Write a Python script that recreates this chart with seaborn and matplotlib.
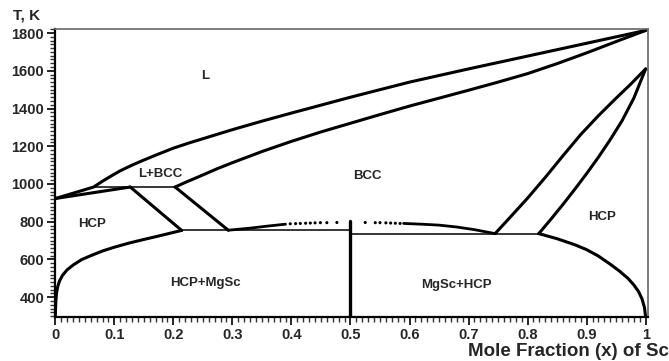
import matplotlib
matplotlib.use("Agg")
import matplotlib.pyplot as plt
import seaborn as sns
import pandas as pd
from matplotlib.ticker import MultipleLocator

# ---------------- data (mole fraction Sc, temperature K) ----------------
liq_x = [0.0, 0.03, 0.065, 0.08, 0.095, 0.11, 0.13, 0.15, 0.175, 0.2, 0.225, 0.25, 0.3,
         0.35, 0.4, 0.45, 0.5, 0.55, 0.6, 0.65, 0.7, 0.75, 0.8, 0.85, 0.9, 0.95, 1.0]
liq_t = [923, 951, 984, 1015, 1043, 1070, 1100, 1127, 1159, 1190, 1216, 1240, 1288,
         1333, 1376, 1418, 1460, 1500, 1540, 1575, 1610, 1644, 1678, 1712, 1746, 1780, 1814]

sol_x = [0.203, 0.22, 0.25, 0.275, 0.3, 0.35, 0.4, 0.45, 0.5, 0.55, 0.6, 0.65, 0.7,
         0.75, 0.8, 0.85, 0.9, 0.95, 1.0]
sol_t = [984, 1008, 1048, 1082, 1113, 1172, 1226, 1276, 1322, 1368, 1413, 1455, 1497,
         1540, 1585, 1638, 1695, 1755, 1814]

hcpsol_x = [0.0, 0.127]
hcpsol_t = [923, 984]

perit_x = [0.065, 0.203]
perit_t = [984, 984]

hcp_bnd_x = [0.127, 0.214]
hcp_bnd_t = [984, 754]
bcc_bnd_x = [0.203, 0.293]
bcc_bnd_t = [984, 755]

eut_l_x = [0.214, 0.5]
eut_l_t = [754, 754]
eut_r_x = [0.5, 0.819]
eut_r_t = [737, 737]

mgsc_x = [0.5, 0.5]
mgsc_t = [295, 805]

solv_l_x = [0.0, 0.0003, 0.001, 0.002, 0.004, 0.007, 0.012, 0.02, 0.03, 0.045, 0.06,
            0.08, 0.1, 0.125, 0.15, 0.18, 0.214]
solv_l_t = [295, 330, 380, 420, 455, 485, 515, 545, 570, 600, 620,
            645, 665, 687, 706, 728, 754]

solv_r_x = [0.819, 0.85, 0.88, 0.9, 0.92, 0.94, 0.955, 0.97, 0.98, 0.988, 0.994, 0.998, 1.0]
solv_r_t = [737, 710, 678, 652, 618, 575, 540, 500, 465, 430, 390, 345, 295]

bccsc_x = [0.745, 0.77, 0.8, 0.83, 0.86, 0.89, 0.92, 0.95, 0.975, 1.0]
bccsc_t = [737, 822, 925, 1035, 1150, 1262, 1362, 1455, 1530, 1610]
hcpsc_x = [0.819, 0.84, 0.86, 0.88, 0.9, 0.92, 0.94, 0.96, 0.98, 1.0]
hcpsc_t = [737, 815, 892, 972, 1055, 1142, 1235, 1335, 1455, 1610]

ord_l_x = [0.293, 0.31, 0.33, 0.36, 0.39]
ord_l_t = [755, 760, 766, 777, 787]
ord_dot_x = [0.398, 0.407, 0.415, 0.424, 0.432, 0.44, 0.449, 0.46, 0.477,
             0.525, 0.542, 0.55, 0.56, 0.568, 0.576, 0.584]
ord_dot_t = [789, 790, 791, 792, 793, 794, 795, 795, 796,
             796, 795, 795, 794, 793, 792, 791]
ord_r_x = [0.59, 0.62, 0.65, 0.68, 0.71, 0.745]
ord_r_t = [791, 787, 782, 772, 758, 737]

labels = ["L", "L+BCC", "BCC", "HCP", "HCP+MgSc", "MgSc+HCP", "HCP"]
label_x = [0.254, 0.177, 0.528, 0.062, 0.254, 0.680, 0.926]
label_t = [1572, 1055, 1041, 790, 476, 462, 825]

x_ticks = [0, 0.1, 0.2, 0.3, 0.4, 0.5, 0.6, 0.7, 0.8, 0.9, 1.0]
x_ticklabels = ["0", "0.1", "0.2", "0.3", "0.4", "0.5", "0.6", "0.7", "0.8", "0.9", "1"]
y_ticks = [400, 600, 800, 1000, 1200, 1400, 1600, 1800]

# ---------------- style ----------------
sns.set_style("ticks")
plt.rcParams['font.family'] = ['Liberation Sans', 'DejaVu Sans']
plt.rcParams['font.weight'] = 'bold'

fig = plt.figure(figsize=(6.69, 3.61), dpi=100)
ax = fig.add_axes([55.3 / 669, 1 - 317 / 361, (648 - 55.3) / 669, (317 - 29.3) / 361])

def curve(xs, ts, lw=2.2):
    df = pd.DataFrame({"x": xs, "t": ts})
    sns.lineplot(data=df, x="x", y="t", sort=False, estimator=None, color="black",
                 lw=lw, ax=ax, solid_capstyle="round", solid_joinstyle="round")

curve(liq_x, liq_t)
curve(sol_x, sol_t)
curve(hcpsol_x, hcpsol_t)
curve(perit_x, perit_t, lw=1.1)
curve(hcp_bnd_x, hcp_bnd_t)
curve(bcc_bnd_x, bcc_bnd_t)
curve(eut_l_x, eut_l_t, lw=1.1)
curve(eut_r_x, eut_r_t, lw=1.1)
curve(mgsc_x, mgsc_t, lw=2.4)
curve(solv_l_x, solv_l_t)
curve(solv_r_x, solv_r_t)
curve(bccsc_x, bccsc_t)
curve(hcpsc_x, hcpsc_t)
curve(ord_l_x, ord_l_t, lw=2.0)
curve(ord_r_x, ord_r_t, lw=2.0)
sns.scatterplot(x=ord_dot_x, y=ord_dot_t, color="black", s=5, edgecolor="none", ax=ax)

for lab, lx, lt in zip(labels, label_x, label_t):
    ax.text(lx, lt, lab, ha="center", va="center", fontsize=9.5, fontweight="bold")

ax.set_xlim(0, 1.004)
ax.set_ylim(295, 1820)
ax.set_xticks(x_ticks)
ax.set_xticklabels(x_ticklabels)
ax.set_yticks(y_ticks)
ax.xaxis.set_minor_locator(MultipleLocator(0.01))
ax.yaxis.set_minor_locator(MultipleLocator(20))
ax.tick_params(axis="both", which="major", direction="out", length=6, width=1.2,
               labelsize=10.5, pad=2, color="black")
ax.tick_params(axis="both", which="minor", direction="out", length=3.5, width=1.0, color="#333333")
for lab in ax.get_xticklabels() + ax.get_yticklabels():
    lab.set_fontweight("bold")
ax.set_xlabel("")
ax.set_ylabel("")

for side in ["left", "bottom"]:
    ax.spines[side].set_linewidth(1.6)
    ax.spines[side].set_color("black")
for side in ["top", "right"]:
    ax.spines[side].set_visible(True)
    ax.spines[side].set_linewidth(1.2)
    ax.spines[side].set_color("#666666")

fig.text(13 / 669, 1 - 15 / 361, "T, K", ha="left", va="center", fontsize=11, fontweight="bold")
fig.text(1.0, 1 - 351.7 / 361, "Mole Fraction (x) of Sc", ha="right", va="center",
         fontsize=13.5, fontweight="bold")

fig.savefig("out.png", dpi=100)
